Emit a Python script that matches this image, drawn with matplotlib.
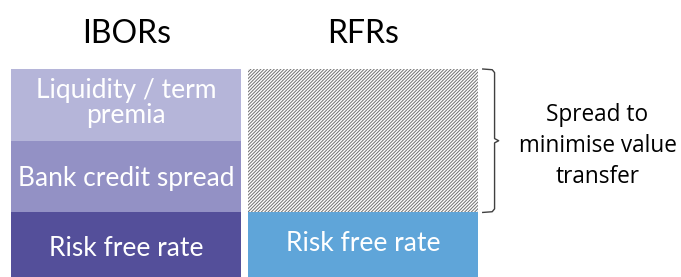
import matplotlib.pyplot as plt
import numpy as np

# data
columns = ['IBORs', 'RFRs']
risk_free = [0.9, 0.9]
bank_credit = [1.0, 0.0]
liquidity = [1.0, 0.0]
spread = [0.0, 2.0]
risk_free_labels = ['Risk free rate', 'Risk free rate']
bracket_text = 'Spread to\nminimise value\ntransfer'

plt.rcParams['font.family'] = ['Lato', 'DejaVu Sans']
plt.rcParams['hatch.linewidth'] = 0.7
plt.rcParams['hatch.color'] = '#707070'

fig = plt.figure(figsize=(6.81, 2.77), dpi=100)
ax = fig.add_axes([11 / 681, 0, 467 / 681, 208 / 277])

x = np.arange(len(columns))
w = 0.973
b1 = np.array(risk_free)
b2 = b1 + np.array(bank_credit)

ax.bar(x[0], risk_free[0], w, color='#544f9a')
ax.bar(x[0], bank_credit[0], w, bottom=b1[0], color='#9391c5')
ax.bar(x[0], liquidity[0], w, bottom=b2[0], color='#b5b5d9')
ax.bar(x[1], risk_free[1], w, color='#5fa5d9')
ax.bar(x[1], spread[1], w, bottom=b1[1], facecolor='white', edgecolor='#707070',
       hatch='//////////', linewidth=0)

top = b1[0] + bank_credit[0] + liquidity[0]
ax.set_xlim(-w / 2, 1 + w / 2)
ax.set_ylim(0, top)
ax.axis('off')

# labels inside bars
fs = 19
ax.text(x[0], b2[0] + liquidity[0] / 2 + 0.02, 'Liquidity / term\npremia', ha='center', va='center',
        color='white', fontsize=fs, linespacing=1.0)
ax.text(x[0], b1[0] + bank_credit[0] / 2 - 0.03, 'Bank credit spread', ha='center', va='center',
        color='white', fontsize=fs)
ax.text(x[0], risk_free[0] / 2 - 0.05, risk_free_labels[0], ha='center', va='center',
        color='white', fontsize=fs)
ax.text(x[1], risk_free[1] / 2 + 0.02, risk_free_labels[1], ha='center', va='center',
        color='white', fontsize=fs)

# column titles
for xi, name in zip(x, columns):
    ax.text(xi, top + 0.49, name, ha='center', va='center', fontsize=23)

# curly bracket next to the spread
x0 = 1 + w / 2 + 0.02
y0 = b1[1]
y1 = b1[1] + spread[1]
ym = (y0 + y1) / 2
dx = 0.05
bx = [x0, x0 + dx * 0.8, x0 + dx, x0 + dx, x0 + dx * 1.35, x0 + dx, x0 + dx, x0 + dx * 0.8, x0]
by = [y1, y1 - 0.01, y1 - 0.05, ym + 0.03, ym, ym - 0.03, y0 + 0.05, y0 + 0.01, y0]
ax.plot(bx, by, color='#404040', lw=1.0, clip_on=False)

ax.text(1 + w / 2 + 0.505, ym - 0.07, bracket_text, ha='center', va='center', fontsize=16.3,
        linespacing=1.4, family=['Open Sans', 'DejaVu Sans'])

fig.savefig('out.png', dpi=100)
